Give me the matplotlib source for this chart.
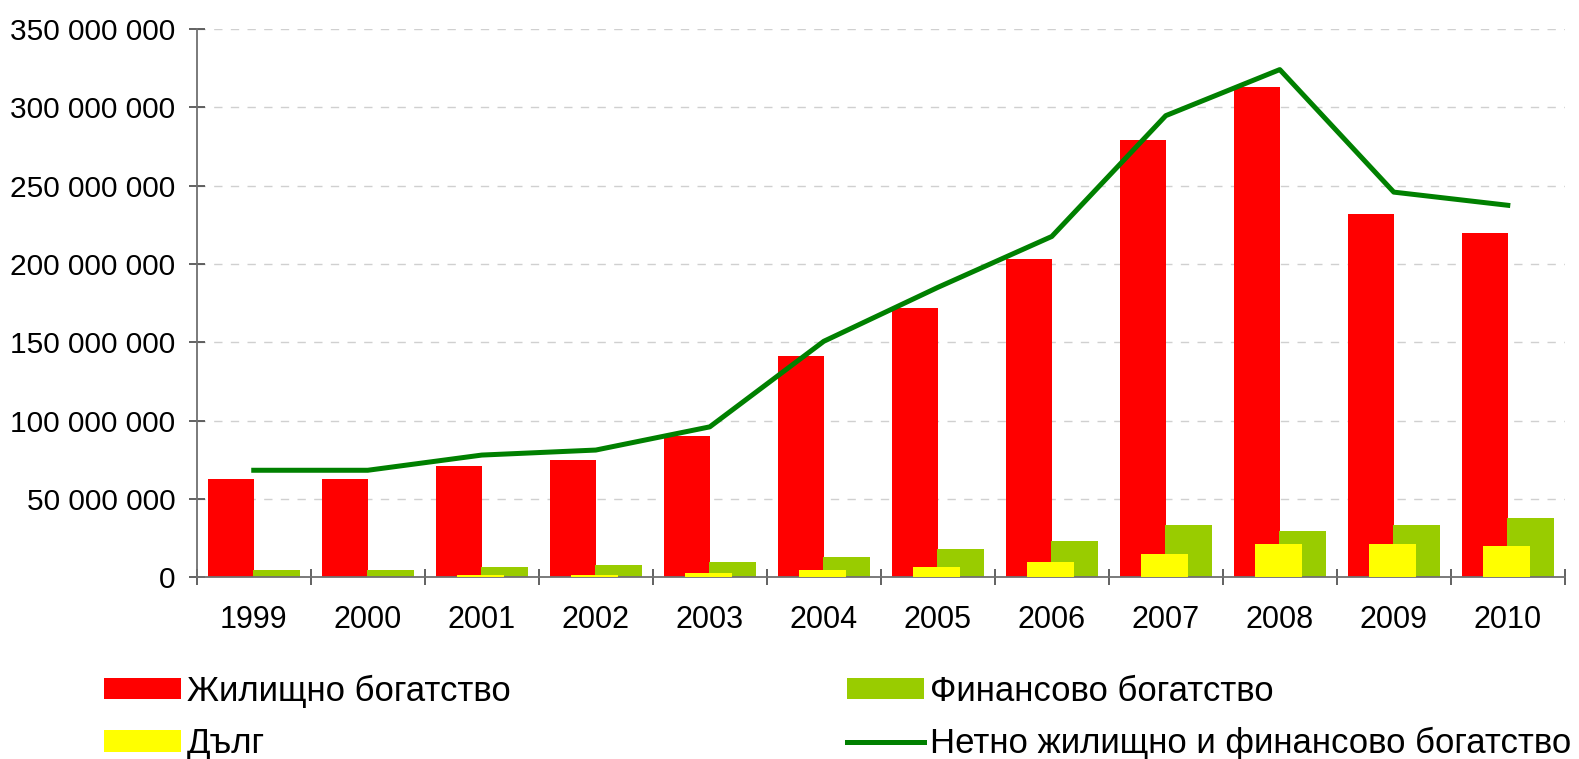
import numpy as np
import matplotlib
matplotlib.use("Agg")
import matplotlib.pyplot as plt
from matplotlib.ticker import FuncFormatter, FixedLocator

plt.rcParams['font.family'] = ['Liberation Sans', 'DejaVu Sans']

years = ["1999", "2000", "2001", "2002", "2003", "2004",
         "2005", "2006", "2007", "2008", "2009", "2010"]
housing = [63e6, 63e6, 71e6, 75e6, 90e6, 141e6,
           172e6, 203e6, 279e6, 313e6, 232e6, 220e6]
financial = [4.5e6, 4.5e6, 6.4e6, 7.7e6, 9.6e6, 12.8e6,
             18e6, 23e6, 33.4e6, 29.6e6, 33.4e6, 37.9e6]
debt = [0, 0, 1.2e6, 1.5e6, 2.7e6, 4.7e6,
        6.6e6, 9.8e6, 14.9e6, 21.5e6, 21.5e6, 20e6]
net_wealth = [68.3e6, 68.3e6, 78e6, 81.2e6, 96e6, 150.6e6,
              185e6, 217.5e6, 294.6e6, 324e6, 245.8e6, 237.4e6]

labels = ["Жилищно богатство", "Дълг", "Финансово богатство",
          "Нетно жилищно и финансово богатство"]

fig = plt.figure(figsize=(15.79, 7.59), dpi=100)
ax = fig.add_axes([0.1246, 0.2394, 0.991 - 0.1246, 0.962 - 0.2394])

x = np.arange(len(years))
w = 0.41
b1 = ax.bar(x - 0.2, housing, w, color="#FF0000", zorder=2)
b3 = ax.bar(x + 0.2, financial, w, color="#99CC00", zorder=2)
b2 = ax.bar(x - 0.01, debt, w, color="#FFFF00", zorder=3)
ln, = ax.plot(x, net_wealth, color="#008000", linewidth=3.6, zorder=4)

ax.set_xlim(-0.5, len(years) - 0.5)
ax.set_ylim(0, 350e6)
ax.set_yticks(np.arange(0, 350e6 + 1, 50e6))
ax.yaxis.set_major_formatter(FuncFormatter(lambda v, p: f"{int(v):,}".replace(",", " ")))
ax.grid(axis="y", color="#d0d0d0", linestyle=(0, (6, 6)), linewidth=1, zorder=0)

ax.set_xticks(x)
ax.set_xticklabels(years)
ax.xaxis.set_minor_locator(FixedLocator(np.arange(-0.5, len(years), 1)))
ax.tick_params(axis="x", which="major", length=0, pad=20, labelsize=22)
ax.tick_params(axis="x", which="minor", direction="inout", length=11, color="#555555", width=1.3)
ax.tick_params(axis="y", direction="inout", length=11, color="#555555", width=1.3, pad=10, labelsize=21.5)

for s in ["top", "right"]:
    ax.spines[s].set_visible(False)
for s in ["left", "bottom"]:
    ax.spines[s].set_color("#707070")
    ax.spines[s].set_linewidth(1.3)

fig.legend([b1, b2, b3, ln], labels, ncol=2, loc="upper left",
           bbox_to_anchor=(0.066, 0.111), frameon=False, fontsize=25,
           handlelength=2.2, handleheight=0.58, handletextpad=0.18,
           columnspacing=9.7, labelspacing=0.55, borderpad=0, borderaxespad=0)

fig.savefig("out.png", dpi=100)
